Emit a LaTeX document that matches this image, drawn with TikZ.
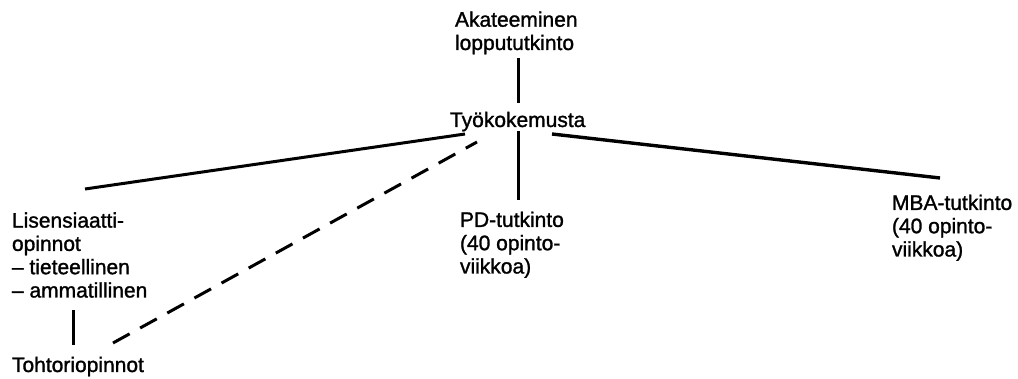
\documentclass[tikz,border=0pt]{standalone}
\usepackage{fontspec}
\setmainfont{Liberation Sans}
\newfontfamily\lblfont{Liberation Sans}[FakeBold=1.3]
\begin{document}
\begin{tikzpicture}[x=1pt,y=-1pt,
  lbl/.style={inner sep=0pt,outer sep=0pt,align=left,anchor=base west,
    font=\lblfont\fontsize{21}{23.3}\selectfont},
  link/.style={line width=3pt},
  dlink/.style={line width=3pt,dash pattern=on 19pt off 12pt}]
\useasboundingbox (0,0) rectangle (1018,379);
% base anchor of a multi-line node = baseline of its last line
\node[lbl] (a) at (455,50) {Akateeminen\\loppututkinto};
\node[lbl] (t) at (450,127) {Työkokemusta};
\node[lbl] (l) at (12,297.5) {Lisensiaatti-\\opinnot\\– tieteellinen\\– ammatillinen};
\node[lbl] (h) at (12,372) {Tohtoriopinnot};
\node[lbl] (p) at (460,273.5) {PD-tutkinto\\(40 opinto-\\viikkoa)};
\node[lbl] (m) at (892,256.5) {MBA-tutkinto\\(40 opinto-\\viikkoa)};
% connector end points
\coordinate (a1) at (518,58);
\coordinate (t1) at (518,103);
\coordinate (t2) at (465,134);
\coordinate (l1) at (85,189);
\coordinate (t3) at (477,142);
\coordinate (h2) at (113,343);
\coordinate (l2) at (73,310);
\coordinate (h1) at (73,345);
\coordinate (t4) at (518,131);
\coordinate (p1) at (518,200);
\coordinate (t5) at (552,134);
\coordinate (m1) at (940,178);
\draw[link] (a1) -- (t1);
\draw[link] (t2) -- (l1);
\draw[dlink] (h2) -- (t3);
\draw[link] (l2) -- (h1);
\draw[link] (t4) -- (p1);
\draw[line width=3.4pt] (t5) -- (m1);
\end{tikzpicture}
\end{document}
